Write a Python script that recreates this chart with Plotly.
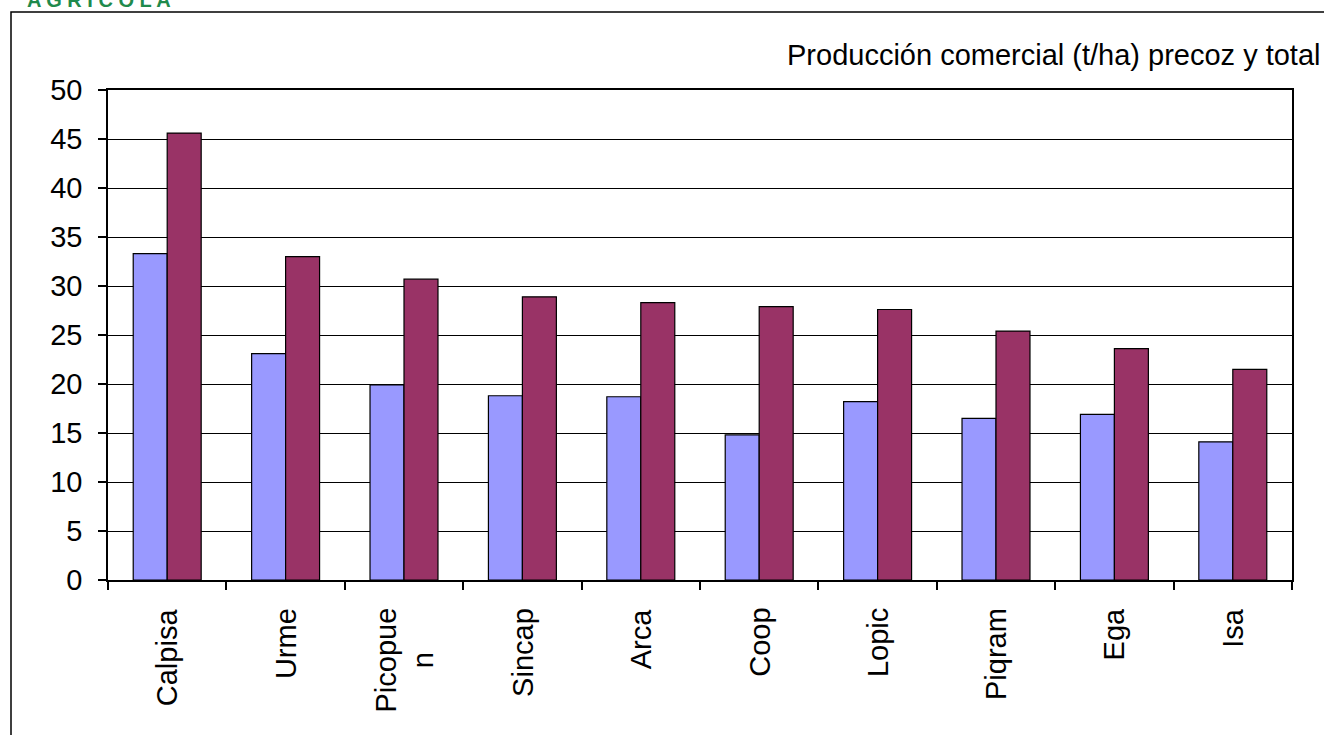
import plotly.graph_objects as go

categories = ["Calpisa", "Urme", "Picopue<br>n", "Sincap", "Arca", "Coop", "Lopic", "Piqram", "Ega", "Isa"]
precoz = [33.3, 23.1, 19.9, 18.8, 18.7, 14.8, 18.2, 16.5, 16.9, 14.1]
total = [45.6, 33.0, 30.7, 28.9, 28.3, 27.9, 27.6, 25.4, 23.6, 21.5]
y_ticks = [0, 5, 10, 15, 20, 25, 30, 35, 40, 45, 50]
title_text = "Producción comercial (t/ha) precoz y total"
brand_text = "A G R I C O L A"

FONT = "Arial, Liberation Sans, sans-serif"
W, H = 1324, 735
ML, MR, MT, MB = 108, 32, 90, 155
PW = W - ML - MR
PH = H - MT - MB


def px_x(x):
    return (x - ML) / PW


def px_y(y):
    return (H - MB - y) / PH


fig = go.Figure()
fig.add_trace(go.Bar(x=categories, y=precoz, name="Precoz",
                     marker=dict(color="#9999FF", line=dict(color="black", width=1.2))))
fig.add_trace(go.Bar(x=categories, y=total, name="Total",
                     marker=dict(color="#993366", line=dict(color="black", width=1.2))))

annotations = []
for c in categories:
    annotations.append(dict(
        x=c, xref="x", y=0, yref="paper", yshift=-26,
        text=c, textangle=-90, showarrow=False,
        xanchor="center", yanchor="top", align="center",
        font=dict(family=FONT, size=29, color="black"),
    ))
annotations.append(dict(
    x=px_x(1323), xref="paper", y=px_y(55), yref="paper",
    text=title_text, showarrow=False, xanchor="right", yanchor="middle",
    font=dict(family=FONT, size=29, color="black"),
))
annotations.append(dict(
    x=px_x(25), xref="paper", y=px_y(13), yref="paper",
    text="<b>" + brand_text + "</b>", showarrow=False, xanchor="left", yanchor="bottom",
    font=dict(family=FONT, size=20, color="#1f8a4c"),
))

fig.update_layout(
    width=W, height=H,
    margin=dict(l=ML, r=MR, t=MT, b=MB),
    paper_bgcolor="white", plot_bgcolor="white",
    showlegend=False,
    barmode="group", bargap=0.426, bargroupgap=0,
    annotations=annotations,
    shapes=[dict(type="rect", xref="paper", yref="paper",
                 x0=px_x(11), x1=px_x(1340), y0=px_y(760), y1=px_y(12),
                 line=dict(color="black", width=1.5), fillcolor="rgba(0,0,0,0)",
                 layer="below")],
    font=dict(family=FONT, size=29, color="black"),
)
fig.update_xaxes(
    type="category", showticklabels=False,
    ticks="outside", tickson="boundaries", ticklen=8, tickcolor="black", tickwidth=1.5,
    showline=True, linecolor="black", linewidth=1.5, mirror=True,
    showgrid=False,
)
fig.update_yaxes(
    range=[0, 50], tickvals=y_ticks, ticktext=[str(v) for v in y_ticks],
    ticks="outside", ticklen=8, tickcolor="black", tickwidth=1.5,
    showline=True, linecolor="black", linewidth=1.5, mirror=True,
    showgrid=True, gridcolor="black", gridwidth=1.2, zeroline=False,
    tickfont=dict(family=FONT, size=29, color="black"),
    ticklabelstandoff=10,
)

fig.write_html(
    "out.html",
    config={"displayModeBar": False},
    post_script="document.body.style.margin='0';document.body.style.overflow='hidden';",
)
